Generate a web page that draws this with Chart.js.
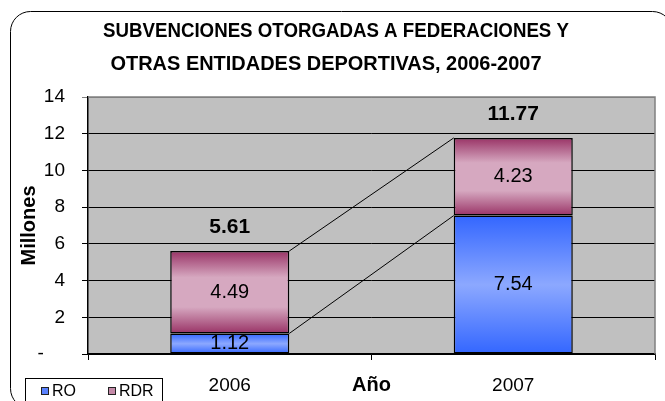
<!DOCTYPE html>
<html>
<head>
<meta charset="utf-8">
<script src="https://cdn.jsdelivr.net/npm/chart.js@4.4.1/dist/chart.umd.min.js"></script>
<style>
  body { margin: 0; background: #fff; }
  #wrap { width: 665px; height: 401px; }
</style>
</head>
<body>
<div id="wrap"><canvas id="chart" width="665" height="401"></canvas></div>
<script>
// ---------------- Data ----------------
const years = ["2006", "2007"];
const roValues = [1.12, 7.54];
const rdrValues = [4.49, 4.23];
const yTicks = [0, 2, 4, 6, 8, 10, 12, 14];
const titleLines = ["SUBVENCIONES OTORGADAS A FEDERACIONES Y", "OTRAS ENTIDADES DEPORTIVAS, 2006-2007"];

const FONT = "'Liberation Sans', Arial, sans-serif";

// vertical gradient for one bar segment, built from the y scale
function segmentGradient(context, startVals, endVals, stops) {
    const chart = context.chart;
    const yScale = chart.scales.y;
    if (!chart.chartArea || !yScale || context.dataIndex === undefined) return stops[0][1];
    const i = context.dataIndex;
    const top = yScale.getPixelForValue(endVals[i]);
    const bottom = yScale.getPixelForValue(startVals[i]);
    const g = chart.ctx.createLinearGradient(0, top, 0, bottom);
    stops.forEach(function(s) { g.addColorStop(s[0], s[1]); });
    return g;
}

const zeros = years.map(function() { return 0; });
const roTops = roValues.slice();
const rdrTops = roValues.map(function(v, i) { return v + rdrValues[i]; });

const blueStops = [[0, "#3366ff"], [0.5, "#8ca8ff"], [1, "#3366ff"]];
const pinkStops = [[0, "#993366"], [0.32, "#d6a8c0"], [0.68, "#d6a8c0"], [1, "#993366"]];

// ---------------- Plugins ----------------
const framePlugin = {
    id: "frame",
    beforeDraw(chart) {
        const ctx = chart.ctx;
        const a = chart.chartArea;
        ctx.save();
        ctx.strokeStyle = "#000";
        ctx.lineWidth = 1;
        ctx.beginPath();
        ctx.roundRect(10.5, 11.5, 662, 397, 20);
        ctx.stroke();
        ctx.fillStyle = "#c0c0c0";
        ctx.fillRect(a.left, a.top, a.right - a.left, a.bottom - a.top);
        ctx.fillStyle = "#000";
        ctx.textAlign = "center";
        ctx.textBaseline = "middle";
        ctx.font = "bold 20px " + FONT;
        ctx.fillText(titleLines[0], 336, 31, 466);
        ctx.fillText(titleLines[1], 326, 64, 431);
        ctx.restore();
    },
    beforeDatasetsDraw(chart) {
        const ctx = chart.ctx;
        const a = chart.chartArea;
        ctx.save();
        ctx.strokeStyle = "#808080";
        ctx.lineWidth = 1.5;
        ctx.beginPath();
        ctx.moveTo(a.left, a.top);
        ctx.lineTo(a.right, a.top);
        ctx.lineTo(a.right, a.bottom);
        ctx.stroke();
        ctx.restore();
    },
    afterDatasetsDraw(chart) {
        const ctx = chart.ctx;
        ctx.save();
        // series lines between the stacks
        ctx.strokeStyle = "#000";
        ctx.lineWidth = 1;
        chart.data.datasets.forEach(function(ds, d) {
            const els = chart.getDatasetMeta(d).data;
            ctx.beginPath();
            ctx.moveTo(els[0].x + els[0].width / 2, els[0].y);
            ctx.lineTo(els[1].x - els[1].width / 2, els[1].y);
            ctx.stroke();
        });
        // value labels inside segments
        ctx.fillStyle = "#000";
        ctx.textAlign = "center";
        ctx.textBaseline = "middle";
        ctx.font = "20px " + FONT;
        chart.data.datasets.forEach(function(ds, d) {
            chart.getDatasetMeta(d).data.forEach(function(el, i) {
                ctx.fillText(ds.data[i].toFixed(2), el.x, (el.y + el.base) / 2);
            });
        });
        // totals above stacks
        ctx.font = "bold 21px " + FONT;
        const last = chart.getDatasetMeta(chart.data.datasets.length - 1).data;
        last.forEach(function(el, i) {
            ctx.fillText(rdrTops[i].toFixed(2), el.x, el.y - 24);
        });
        ctx.restore();
    },
    afterDraw(chart) {
        // legend box at the bottom left
        const ctx = chart.ctx;
        ctx.save();
        ctx.strokeStyle = "#000";
        ctx.lineWidth = 1;
        ctx.strokeRect(25.5, 378.5, 137, 30);
        const items = [
            { label: chart.data.datasets[0].label, color: "#5a82ff", x: 41 },
            { label: chart.data.datasets[1].label, color: "#c48aa8", x: 108 }
        ];
        ctx.font = "16px " + FONT;
        ctx.textBaseline = "middle";
        items.forEach(function(it) {
            ctx.fillStyle = it.color;
            ctx.fillRect(it.x, 387, 8, 8);
            ctx.strokeStyle = "#222";
            ctx.strokeRect(it.x + 0.5, 387.5, 7, 7);
            ctx.fillStyle = "#000";
            ctx.fillText(it.label, it.x + 11, 391.5);
        });
        ctx.restore();
    }
};

// ---------------- Chart ----------------
const ctx = document.getElementById("chart").getContext("2d");
const myChart = new Chart(ctx, {
    type: "bar",
    data: {
        labels: years,
        datasets: [{
            label: "RO",
            data: roValues,
            backgroundColor: function(c) { return segmentGradient(c, zeros, roTops, blueStops); },
            borderColor: "#000",
            borderWidth: 1.5,
            borderSkipped: false,
        }, {
            label: "RDR",
            data: rdrValues,
            backgroundColor: function(c) { return segmentGradient(c, roTops, rdrTops, pinkStops); },
            borderColor: "#000",
            borderWidth: 1.5,
            borderSkipped: false,
        }],
    },
    options: {
        responsive: false,
        animation: false,
        devicePixelRatio: 1,
        categoryPercentage: 1,
        barPercentage: 0.42,
        layout: { padding: { top: 97, right: 10, left: 0, bottom: 0 } },
        plugins: {
            legend: { display: false },
            tooltip: { enabled: false },
        },
        scales: {
            x: {
                stacked: true,
                afterFit: function(scale) { scale.height = 47; },
                grid: { offset: true, drawOnChartArea: false, color: "#000", tickLength: 6 },
                border: { color: "#000", width: 1.5 },
                ticks: { color: "#000", font: { family: FONT, size: 19 }, padding: 14 },
                title: {
                    display: true,
                    text: "Año",
                    color: "#000",
                    font: { family: FONT, size: 20, weight: "bold" },
                    padding: { top: 0, bottom: 4 },
                },
            },
            y: {
                stacked: true,
                min: 0,
                max: 14,
                afterFit: function(scale) { scale.width = 88; },
                afterBuildTicks: function(scale) {
                    scale.ticks = yTicks.map(function(v) { return { value: v }; });
                },
                grid: {
                    color: function(c) { return c.tick && c.tick.value === 14 ? "#808080" : "#000"; },
                    lineWidth: 1,
                    tickLength: 6,
                },
                border: { color: "#000", width: 1.5 },
                ticks: {
                    color: "#000",
                    font: { family: FONT, size: 19 },
                    padding: 17,
                    callback: function(v) { return v === 0 ? "-\u00a0\u00a0\u00a0\u00a0" : v; },
                },
                title: {
                    display: true,
                    text: "Millones",
                    color: "#000",
                    font: { family: FONT, size: 20, weight: "bold" },
                    padding: { top: 17, bottom: 0 },
                },
            },
        },
    },
    plugins: [framePlugin],
});
</script>
</body>
</html>
